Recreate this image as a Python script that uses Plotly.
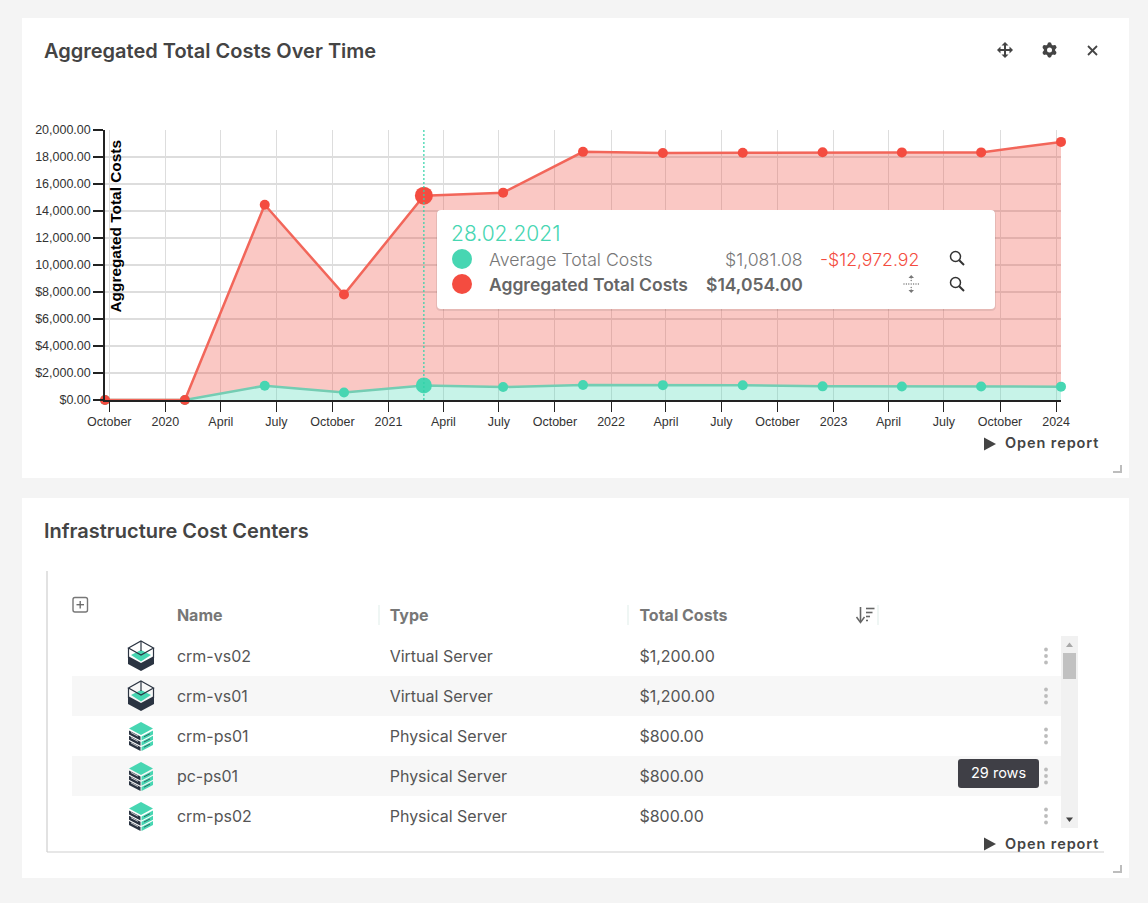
import math
import plotly.graph_objects as go

W, H = 1148, 903

# chart data
dates = ["2019-09-24", "2020-02-02", "2020-06-12", "2020-10-20", "2021-02-28", "2021-07-08", "2021-11-16",
         "2022-03-27", "2022-08-05", "2022-12-14", "2023-04-23", "2023-08-31", "2024-01-09"]
average_costs = [0, 0, 1060, 560, 1081.08, 960, 1110, 1100, 1090, 1010, 1000, 1000, 990]
aggregated_costs = [0, 0, 13400, 7250, 14054.00, 14400, 17270, 17200, 17220, 17340, 17340, 17340, 18130]
hover_index = 4
hover_label = "28.02.2021"

x_ticks = ["2019-10-01", "2020-01-01", "2020-04-01", "2020-07-01", "2020-10-01", "2021-01-01", "2021-04-01",
           "2021-07-01", "2021-10-01", "2022-01-01", "2022-04-01", "2022-07-01", "2022-10-01", "2023-01-01",
           "2023-04-01", "2023-07-01", "2023-10-01", "2024-01-01"]
x_labels = ["October", "2020", "April", "July", "October", "2021", "April", "July", "October", "2022",
            "April", "July", "October", "2023", "April", "July", "October", "2024"]
y_ticks = [0, 2000, 4000, 6000, 8000, 10000, 12000, 14000, 16000, 18000, 20000]
y_labels = ["$0.00", "$2,000.00", "$4,000.00", "$6,000.00", "$8,000.00", "10,000.00", "12,000.00",
            "14,000.00", "16,000.00", "18,000.00", "20,000.00"]

# table data
row_names = ["crm-vs02", "crm-vs01", "crm-ps01", "pc-ps01", "crm-ps02"]
row_types = ["Virtual Server", "Virtual Server", "Physical Server", "Physical Server", "Physical Server"]
row_costs = ["$1,200.00", "$1,200.00", "$800.00", "$800.00", "$800.00"]

TEAL = "#47d6b2"
RED = "#f44c40"
DARK = "#444444"
NAVY = "#2b3442"

shapes = []
notes = []


def px(x):
    return x / W


def py(y):
    return 1 - y / H


def poly(pts, fill=None, line=None, width=1, closed=True, layer="above"):
    path = "M" + " L".join(f"{px(x):.5f},{py(y):.5f}" for x, y in pts) + (" Z" if closed else "")
    shapes.append(dict(type="path", path=path, xref="paper", yref="paper", layer=layer,
                       fillcolor=fill if fill else "rgba(0,0,0,0)",
                       line=dict(color=line if line else "rgba(0,0,0,0)", width=width if line else 0)))


def seg(x0, y0, x1, y1, color, width=1, layer="above"):
    shapes.append(dict(type="line", xref="paper", yref="paper", layer=layer,
                       x0=px(x0), y0=py(y0), x1=px(x1), y1=py(y1), line=dict(color=color, width=width)))


def box(x0, y0, x1, y1, fill, layer="above"):
    shapes.append(dict(type="rect", xref="paper", yref="paper", layer=layer,
                       x0=px(x0), y0=py(y0), x1=px(x1), y1=py(y1), fillcolor=fill, line=dict(width=0)))


def dot(cx, cy, r, fill=None, line=None, width=1):
    shapes.append(dict(type="circle", xref="paper", yref="paper", layer="above",
                       x0=px(cx - r), y0=py(cy + r), x1=px(cx + r), y1=py(cy - r),
                       fillcolor=fill if fill else "rgba(0,0,0,0)",
                       line=dict(color=line if line else "rgba(0,0,0,0)", width=width if line else 0)))


def round_box(x0, y0, x1, y1, r, fill=None, line=None, width=1):
    c = lambda x, y: f"{px(x):.5f},{py(y):.5f}"
    path = (f"M{c(x0 + r, y0)} L{c(x1 - r, y0)} Q{c(x1, y0)} {c(x1, y0 + r)} L{c(x1, y1 - r)} Q{c(x1, y1)} {c(x1 - r, y1)} "
            f"L{c(x0 + r, y1)} Q{c(x0, y1)} {c(x0, y1 - r)} L{c(x0, y0 + r)} Q{c(x0, y0)} {c(x0 + r, y0)} Z")
    shapes.append(dict(type="path", path=path, xref="paper", yref="paper", layer="above",
                       fillcolor=fill if fill else "rgba(0,0,0,0)",
                       line=dict(color=line if line else "rgba(0,0,0,0)", width=width if line else 0)))


def text(x, y, s, size=15, color=DARK, anchor="left", family="Inter", weight=400):
    notes.append(dict(x=px(x), y=py(y), xref="paper", yref="paper", text=s, showarrow=False,
                      xanchor=anchor, yanchor="middle", borderpad=0,
                      font=dict(family=family, size=size, color=color, weight=weight)))


def magnifier(cx, cy):
    dot(cx - 1.5, cy - 1.5, 5, line="#333333", width=1.5)
    seg(cx + 2.2, cy + 2.2, cx + 7, cy + 7, "#333333", 2)


def open_report(y):
    poly([(984, y - 6.5), (996, y), (984, y + 6.5)], fill=DARK)
    text(1008.5, y - 1, "Open report", size=14.5, anchor="left", weight=600, family="Inter")


def resize_handle(y):
    poly([(1122, y), (1122, y + 8), (1113, y + 8), (1113, y + 6), (1120, y + 6), (1120, y)], fill="#bdbdbd")


def virtual_icon(cx, cy):
    poly([(cx - 13, cy), (cx, cy + 7), (cx + 13, cy), (cx + 13, cy + 8), (cx, cy + 15), (cx - 13, cy + 8)], fill=NAVY)
    poly([(cx, cy - 6), (cx + 10, cy - 1), (cx, cy + 5.5), (cx - 10, cy - 1)], fill=TEAL)
    poly([(cx, cy - 15), (cx + 12.5, cy - 8), (cx, cy - 1), (cx - 12.5, cy - 8)], line=NAVY, width=1.2)
    seg(cx - 12.5, cy - 8, cx - 12.5, cy + 2, NAVY, 1.2)
    seg(cx + 12.5, cy - 8, cx + 12.5, cy + 2, NAVY, 1.2)
    seg(cx, cy - 15, cx, cy - 5, NAVY, 1.2)


def physical_icon(cx, cy):
    poly([(cx, cy - 14), (cx + 12, cy - 7.5), (cx, cy - 1), (cx - 12, cy - 7.5)], fill=TEAL)
    for i in range(3):
        t = i * 5.2
        poly([(cx - 12, cy - 5.5 + t), (cx - 0.5, cy + 0.5 + t), (cx - 0.5, cy + 4.5 + t), (cx - 12, cy - 1.5 + t)], fill=NAVY)
        poly([(cx + 12, cy - 5.5 + t), (cx + 0.5, cy + 0.5 + t), (cx + 0.5, cy + 4.5 + t), (cx + 12, cy - 1.5 + t)], fill=TEAL)
        seg(cx - 10, cy - 3.5 + t, cx - 3, cy + 0.2 + t, "#ffffff", 0.7)
        seg(cx + 3, cy + 0.8 + t, cx + 9, cy - 2.3 + t, NAVY, 0.7)


# cards
box(22, 18, 1129, 478, "#ffffff", layer="below")
box(22, 498, 1129, 878, "#ffffff", layer="below")

# headers
text(43, 51, "Aggregated Total Costs Over Time", size=20, weight=600)
text(43, 531, "Infrastructure Cost Centers", size=20, weight=600)

seg(998, 50, 1012, 50, DARK, 2)
seg(1005, 43, 1005, 57, DARK, 2)
for sx, sy in [(997, 50), (1013, 50)]:
    d = 3.5 if sx > 1005 else -3.5
    poly([(sx, sy), (sx - d, sy - 3.5), (sx - d, sy + 3.5)], fill=DARK)
for sx, sy in [(1005, 42), (1005, 58)]:
    d = 3.5 if sy > 50 else -3.5
    poly([(sx, sy), (sx - 3.5, sy - d), (sx + 3.5, sy - d)], fill=DARK)

dot(1049.5, 50, 5.8, fill=DARK)
for a in range(30, 390, 60):
    dot(1049.5 + 5.6 * math.cos(math.radians(a)), 50 + 5.6 * math.sin(math.radians(a)), 2.1, fill=DARK)
dot(1049.5, 50, 2.5, fill="#ffffff")
seg(1088, 46, 1097, 55, DARK, 1.8)
seg(1097, 46, 1088, 55, DARK, 1.8)

open_report(444)
resize_handle(465)
open_report(844)
resize_handle(865)

# tooltip
round_box(436, 210, 996, 311, 5, fill="rgba(0,0,0,0.08)")
round_box(437, 210, 995, 309, 4, fill="#ffffff")
avg_val = average_costs[hover_index]
agg_val = aggregated_costs[hover_index]
diff_val = avg_val - agg_val
text(450, 234, hover_label, size=21, color=TEAL, weight=300)
dot(462, 259, 10, fill=TEAL)
dot(462, 284, 10, fill=RED)
text(487.5, 259, "Average Total Costs", size=17.7, color="#777777", weight=300)
text(803.5, 259, f"${avg_val:,.2f}", size=17.7, color="#777777", anchor="right", weight=300)
text(920, 259, f"-${abs(diff_val):,.2f}", size=17.7, color=RED, anchor="right", weight=300)
text(487.5, 284, "Aggregated Total Costs", size=17.5, color="#666666", weight=600)
text(803.5, 284, f"${agg_val:,.2f}", size=17.5, color="#666666", anchor="right", weight=600)
magnifier(957, 258)
magnifier(957, 284)
for step in range(7):
    dot(904 + step * 2.4, 284, 0.7, fill="#777777")
for ty in (278, 280.5, 287.5, 290):
    dot(911.2, ty, 0.7, fill="#777777")
poly([(911.2, 275), (908.5, 278), (914, 278)], fill="#777777")
poly([(911.2, 293), (908.5, 290), (914, 290)], fill="#777777")

# table chrome
seg(47, 571, 47, 852, "#cfcfcf", 1.2, layer="below")
seg(47, 852, 1104, 852, "#cfcfcf", 1.2, layer="below")
box(72, 676, 1062, 716, "#f7f7f7", layer="below")
box(72, 756, 1062, 796, "#f7f7f7", layer="below")
round_box(73, 597.5, 87.5, 612, 2, line="#777777", width=1.4)
seg(76.5, 604.7, 84, 604.7, "#666666", 1.3)
seg(80.2, 601, 80.2, 608.5, "#666666", 1.3)
for sep in [379, 628, 878]:
    seg(sep, 605, sep, 625, "#eaf3f0", 1.5)

# sort icon
seg(860.5, 607, 860.5, 622, "#666666", 1.6)
poly([(856.5, 617), (860.5, 622.5), (864.5, 617)], line="#666666", width=1.5, closed=False)
seg(866, 608.5, 874.5, 608.5, "#666666", 1.6)
seg(866, 612.5, 872.5, 612.5, "#666666", 1.6)
seg(866, 616.5, 870, 616.5, "#666666", 1.6)
seg(866, 620.5, 868, 620.5, "#666666", 1.6)

# scrollbar
box(1061, 636, 1078, 828, "#f1f1f1")
box(1063, 653, 1076, 679, "#c1c1c1")
poly([(1069.5, 642.5), (1066, 647), (1073, 647)], fill="#a8a8a8")
poly([(1069.5, 822), (1066, 817.5), (1073, 817.5)], fill="#444444")

row_centers = [656, 696, 736, 776, 816]
for i, cy in enumerate(row_centers):
    for off in (-6.5, 0, 6.5):
        dot(1046, cy + off, 1.9, fill="#bcbcbc")
    if row_types[i].startswith("Virtual"):
        virtual_icon(141, cy)
    else:
        physical_icon(141, cy)

# 29 rows hint
round_box(958, 759, 1039, 788, 3, fill="#3f3f46")
text(998.5, 772.5, "29 rows", size=14.5, color="#ffffff", anchor="center")

# y axis title sits inside the plot
notes.append(dict(x=px(114.5), y=py(227), xref="paper", yref="paper", text="<b>Aggregated Total Costs</b>", showarrow=False,
                  textangle=-90, xanchor="center", yanchor="middle",
                  font=dict(family="Liberation Sans", size=15.4, color="#000000")))

fig = go.Figure()

big = [18 if i == hover_index else 10 for i in range(len(dates))]
big_teal = [16 if i == hover_index else 10 for i in range(len(dates))]

fig.add_trace(go.Scatter(x=dates, y=average_costs, name="Average Total Costs", stackgroup="one", mode="lines+markers",
                         line=dict(color="#74cdb3", width=2.5), fillcolor="rgba(71,214,178,0.3)",
                         marker=dict(color=TEAL, size=big_teal, opacity=1, line=dict(width=0)), cliponaxis=False))
fig.add_trace(go.Scatter(x=dates, y=aggregated_costs, name="Aggregated Total Costs", stackgroup="one", mode="lines+markers",
                         line=dict(color="#f2665a", width=2.5), fillcolor="rgba(238,72,60,0.3)",
                         marker=dict(color=RED, size=big, opacity=1, line=dict(width=0)), cliponaxis=False))

fig.add_trace(go.Table(
    domain=dict(x=[px(72), px(1062)], y=[py(842), py(597)]),
    columnwidth=[97, 213, 250, 430],
    header=dict(values=["", "<b>Name</b>", "<b>Type</b>", "<b>Total Costs</b>"], height=45, align="left",
                fill_color="rgba(0,0,0,0)", line_color="rgba(0,0,0,0)",
                font=dict(family="Inter", size=16, color="#777777")),
    cells=dict(values=[["", "", "", "", ""], row_names, row_types, row_costs], height=40, align="left",
               fill_color="rgba(0,0,0,0)", line_color="rgba(0,0,0,0)",
               font=dict(family="Inter", size=16, color="#555555")),
))

# hover guide
shapes.append(dict(type="line", xref="x", yref="y", layer="above", x0=dates[hover_index], x1=dates[hover_index],
                   y0=0, y1=20000, line=dict(color="#2fd3a8", width=1.2, dash="2px,2px")))

fig.update_layout(
    width=W, height=H,
    margin=dict(l=0, r=0, t=0, b=0, autoexpand=False),
    paper_bgcolor="#f4f4f4",
    plot_bgcolor="rgba(0,0,0,0)",
    showlegend=False,
    hovermode=False,
    shapes=shapes,
    annotations=notes,
    font=dict(family="Liberation Sans", size=12.5, color="#333333"),
    xaxis=dict(domain=[px(105), px(1061)], type="date", range=[dates[0], dates[-1]], automargin=False,
               tickmode="array", tickvals=x_ticks, ticktext=x_labels, ticks="outside", ticklen=10, tickwidth=1,
               ticklabelstandoff=-1,
               tickcolor="#222222", showgrid=True, gridcolor="#dddddd", gridwidth=1.2, tickangle=0,
               showline=True, linecolor="#222222", linewidth=1.5, zeroline=False),
    yaxis=dict(domain=[py(400), py(130)], range=[0, 20000], automargin=False, tickmode="array", tickvals=y_ticks, ticktext=y_labels,
               ticks="outside", ticklen=10, tickwidth=1.5, tickcolor="#222222",
               showgrid=True, gridcolor="#dddddd", gridwidth=2,
               showline=True, linecolor="#222222", linewidth=1.5, zeroline=False),
)

# plotly has no letter spacing setting, the report links need a little
spacing_js = ("document.body.style.margin='0';document.body.style.overflow='hidden';"
              "document.querySelectorAll('.annotation-text').forEach(function(t){"
              "if(t.textContent==='Open report'){t.style.letterSpacing='0.9px';}});")

fig.write_html("out.html", config=dict(displayModeBar=False), post_script=spacing_js)
